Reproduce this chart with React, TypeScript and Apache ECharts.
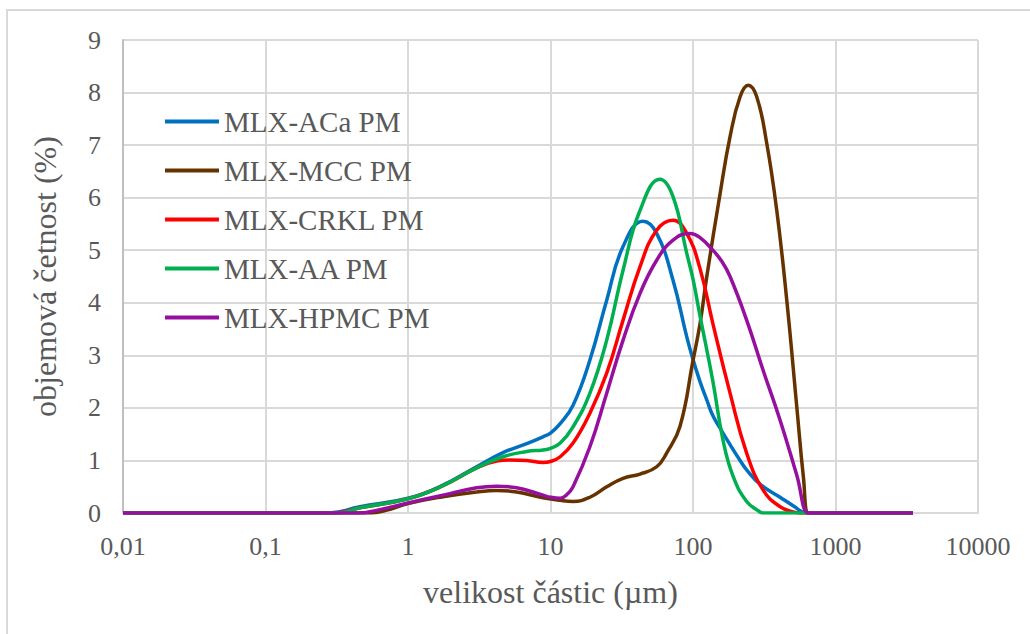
import React, { useEffect, useRef } from "react";
import * as echarts from "echarts";

const seriesNames = ["MLX-ACa PM", "MLX-MCC PM", "MLX-CRKL PM", "MLX-AA PM", "MLX-HPMC PM"];
const seriesColors = ["#0070C0", "#663300", "#FF0000", "#00B050", "#960F9E"];

const xTickLabels = ["0,01", "0,1", "1", "10", "100", "1000", "10000"];
const yTickLabels = ["0", "1", "2", "3", "4", "5", "6", "7", "8", "9"];

// [particle size (µm), volume frequency (%)]
const acaData: [number, number][] = [
  [0.01, 0], [0.25, 0], [0.28, 0], [0.46, 0.12], [1, 0.28], [1.76, 0.53], [3.03, 0.88], [4.64, 1.15],
  [6.81, 1.32], [8.86, 1.45], [10, 1.52], [11.7, 1.7], [14.4, 2.05], [18.9, 2.91], [24.8, 4.05],
  [32.3, 5.07], [44.6, 5.55], [55.6, 5.32], [72.4, 4.43], [90.4, 3.35], [100, 2.92], [112, 2.5],
  [125, 2.15], [138, 1.85], [160, 1.55], [182, 1.3], [214, 1.0], [238, 0.82], [295, 0.55],
  [408, 0.3], [504, 0.14], [628, 0], [700, 0], [3500, 0],
];
const mccData: [number, number][] = [
  [0.01, 0], [0.5, 0], [0.55, 0], [0.7, 0.05], [1, 0.18], [1.76, 0.31], [3.03, 0.4], [4.19, 0.43],
  [5.79, 0.4], [8.86, 0.29], [11.7, 0.24], [14.4, 0.22], [18.9, 0.3], [24.8, 0.5], [32.3, 0.66],
  [42.5, 0.74], [55.6, 0.88], [65.3, 1.14], [81.1, 1.65], [100, 2.9], [112, 3.6], [125, 4.5],
  [155, 6.08], [182, 7.16], [214, 7.92], [244, 8.14], [280, 7.92], [329, 7.04], [387, 5.76],
  [455, 4.05], [535, 2.02], [595, 0.69], [645, 0], [700, 0], [3500, 0],
];
const crklData: [number, number][] = [
  [0.01, 0], [0.28, 0], [0.31, 0], [0.46, 0.1], [1, 0.27], [1.76, 0.52], [3.03, 0.86], [4.19, 0.99],
  [5.2, 1.01], [6.81, 1.0], [8.86, 0.96], [10, 0.98], [11.7, 1.07], [14.4, 1.33], [18.9, 1.9],
  [24.8, 2.66], [32.3, 3.67], [42.5, 4.69], [55.6, 5.38], [72.4, 5.57], [90.4, 5.32], [112, 4.65],
  [138, 3.6], [182, 2.28], [238, 1.14], [310, 0.44], [408, 0.12], [504, 0.02], [560, 0], [3500, 0],
];
const aaData: [number, number][] = [
  [0.01, 0], [0.3, 0], [0.33, 0], [0.46, 0.1], [1, 0.27], [1.76, 0.52], [3.03, 0.86], [4.64, 1.07],
  [6.81, 1.17], [8.86, 1.2], [10, 1.23], [11.7, 1.33], [14.4, 1.64], [18.9, 2.28], [24.8, 3.29],
  [32.3, 4.62], [42.5, 5.76], [58.6, 6.35], [72.4, 6.02], [90.4, 4.94], [100, 4.45], [112, 3.75],
  [138, 2.5], [162, 1.4], [191, 0.7], [238, 0.22], [295, 0.02], [310, 0], [3500, 0],
];
const hpmcData: [number, number][] = [
  [0.01, 0], [0.4, 0], [0.45, 0], [0.6, 0.05], [1, 0.19], [1.76, 0.34], [3.03, 0.48], [4.19, 0.51],
  [5.79, 0.48], [8.86, 0.34], [10, 0.3], [11.7, 0.28], [13, 0.35], [14.4, 0.5], [18.9, 1.26],
  [24.8, 2.28], [32.3, 3.29], [42.5, 4.18], [55.6, 4.81], [72.4, 5.19], [95.3, 5.32], [112, 5.24],
  [138, 5.0], [160, 4.78], [182, 4.5], [238, 3.67], [310, 2.72], [408, 1.77], [535, 0.72],
  [645, 0], [700, 0], [3500, 0],
];

const allData = [acaData, mccData, crklData, aaData, hpmcData];

const FONT = "'Liberation Serif', 'Times New Roman', serif";
const TEXT = "#595959";
const GRID = "#d9d9d9";

export default function App() {
  const ref = useRef<HTMLDivElement>(null);
  useEffect(() => {
    if (!ref.current) return;
    const chart = echarts.init(ref.current, null, { renderer: "svg" });
    chart.setOption({
      animation: false,
      backgroundColor: "#ffffff",
      textStyle: { fontFamily: FONT },
      graphic: [
        {
          type: "rect",
          shape: { x: 7, y: 10, width: 1040, height: 640 },
          style: { fill: "none", stroke: GRID, lineWidth: 2 },
          silent: true,
        },
      ],
      grid: { left: 123, right: 52, top: 40, bottom: 121, containLabel: false },
      legend: {
        orient: "vertical",
        left: 160,
        top: 102,
        itemWidth: 54,
        itemHeight: 4,
        itemGap: 20,
        icon: "rect",
        data: seriesNames,
        textStyle: { fontFamily: FONT, fontSize: 29, color: TEXT, lineHeight: 29 },
      },
      xAxis: {
        type: "log",
        logBase: 10,
        min: 0.01,
        max: 10000,
        name: "velikost částic (µm)",
        nameLocation: "middle",
        nameGap: 63,
        nameTextStyle: { fontFamily: FONT, fontSize: 32, color: TEXT },
        axisLine: { show: true, lineStyle: { color: GRID, width: 2 } },
        axisTick: { show: false },
        splitLine: { show: true, lineStyle: { color: GRID, width: 2 } },
        minorSplitLine: { show: false },
        axisLabel: {
          fontFamily: FONT,
          fontSize: 26,
          color: TEXT,
          margin: 20,
          formatter: (v: number) => xTickLabels[Math.round(Math.log10(v)) + 2] ?? "",
        },
      },
      yAxis: {
        type: "value",
        min: 0,
        max: 9,
        interval: 1,
        name: "objemová četnost (%)",
        nameLocation: "middle",
        nameGap: 62,
        nameTextStyle: { fontFamily: FONT, fontSize: 32, color: TEXT },
        axisLine: { show: true, lineStyle: { color: "#bfbfbf", width: 2 } },
        axisTick: { show: false },
        splitLine: { show: true, lineStyle: { color: GRID, width: 2 } },
        axisLabel: {
          fontFamily: FONT,
          fontSize: 26,
          color: TEXT,
          margin: 22,
          formatter: (v: number) => yTickLabels[Math.round(v)] ?? "",
        },
      },
      series: seriesNames.map((name, i) => ({
        name,
        type: "line",
        data: allData[i],
        smooth: 0.45,
        showSymbol: false,
        symbol: "none",
        lineStyle: { color: seriesColors[i], width: 3.5 },
        itemStyle: { color: seriesColors[i] },
      })),
    });
    return () => chart.dispose();
  }, []);
  return (
    <div
      ref={ref}
      style={{ position: "fixed", left: 0, top: 0, width: 1030, height: 634 }}
    />
  );
}
